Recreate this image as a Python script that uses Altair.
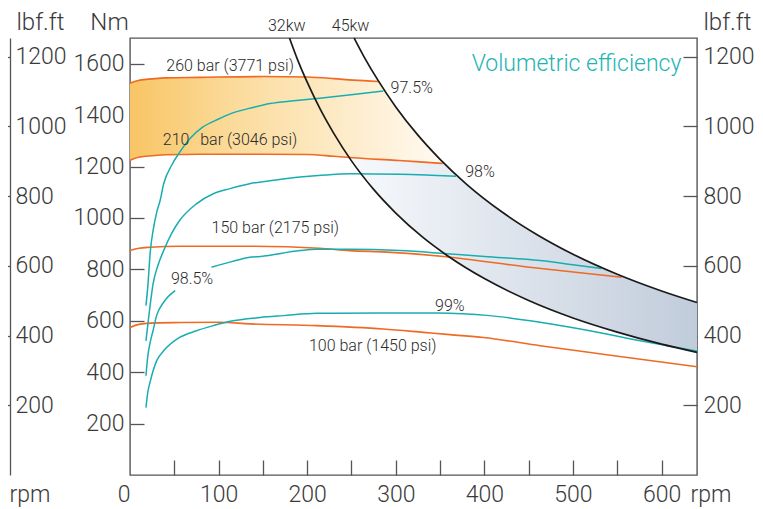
import altair as alt
import pandas as pd

FONT = "Roboto, Liberation Sans, sans-serif"
FW = 300
ORANGE = "#ef6a22"
CYAN = "#18adb0"
INK = "#2b2b2b"
GRAY = "#555555"
AXIS_FS = 23
TITLE_FS = 24
LABEL_FS = 16

RPM_MAX = 640
NM_MAX = 1700
LBF_MAX = 1700 / 1.35582
W, H = 567, 437

# ---------------- data (rpm, Nm) ----------------
bar260_rpm = [0, 5, 11, 25, 40, 79, 150, 200, 230, 252, 281]
bar260_nm = [1524, 1531, 1536, 1541, 1545, 1547, 1550, 1548, 1542, 1536, 1531]
bar210_rpm = [0, 5, 11, 25, 40, 79, 150, 200, 230, 252, 300, 327, 353]
bar210_nm = [1224, 1231, 1237, 1242, 1246, 1248, 1248, 1247, 1240, 1234, 1224, 1218, 1212]
bar150_rpm = [0, 10, 23, 56, 135, 214, 248, 290, 354, 451, 555]
bar150_nm = [873, 882, 886, 890, 890, 882, 873, 867, 850, 808, 769]
bar100_rpm = [0, 10, 23, 56, 100, 135, 211, 286, 331, 361, 399, 463, 538, 640]
bar100_nm = [574, 586, 591, 593, 594, 588, 581, 568, 555, 546, 535, 503, 468, 421]

eff975_rpm = [18, 20, 23, 26, 30, 34, 38, 47, 56, 68, 82, 100, 113, 139, 158, 185, 214, 252, 286]
eff975_nm = [659, 730, 873, 950, 1020, 1068, 1133, 1205, 1255, 1310, 1353, 1385, 1405, 1430, 1445, 1456, 1466, 1480, 1494]
eff98_rpm = [18, 22, 26, 32, 38, 47, 56, 75, 94, 113, 135, 165, 192, 220, 248, 305, 340, 368]
eff98_nm = [522, 640, 743, 820, 873, 940, 990, 1055, 1094, 1114, 1133, 1148, 1159, 1167, 1172, 1170, 1166, 1162]
eff985a_rpm = [18, 20, 23, 26, 30, 38, 51]
eff985a_nm = [386, 460, 520, 561, 620, 672, 717]
eff985b_rpm = [92, 115, 135, 147, 192, 211, 248, 305, 350, 400, 463, 500, 532]
eff985b_nm = [808, 830, 847, 850, 873, 878, 878, 873, 863, 850, 834, 818, 803]
eff99_rpm = [18, 20, 23, 30, 38, 56, 75, 94, 113, 147, 173, 211, 286, 346, 406, 463, 519, 576, 641]
eff99_nm = [262, 320, 366, 444, 483, 535, 561, 581, 598, 613, 620, 629, 630, 630, 620, 594, 561, 522, 481]

kw32_rpm = [180, 190, 200, 215, 230, 250, 275, 300, 330, 360, 400, 450, 500, 550, 600, 640]
kw32_nm = [1700, 1608, 1528, 1421, 1329, 1222, 1111, 1019, 926, 849, 764, 679, 611, 556, 509, 477]
kw45_rpm = [253, 265, 280, 300, 325, 350, 380, 420, 460, 500, 550, 600, 640]
kw45_nm = [1700, 1622, 1535, 1432, 1322, 1228, 1131, 1023, 934, 859, 781, 716, 671]

# shaded zones (rpm, upper Nm, lower Nm)
yellow_rpm = [0, 5, 11, 25, 40, 79, 150, 200, 230, 252, 270, 281, 290, 300, 310, 320, 330, 340, 353]
yellow_top = [1524, 1531, 1536, 1541, 1545, 1547, 1550, 1548, 1542, 1536, 1533, 1531, 1482, 1432, 1386, 1343, 1302, 1264, 1214]
yellow_bot = [1224, 1231, 1237, 1242, 1246, 1248, 1248, 1247, 1240, 1234, 1230, 1228, 1226, 1224, 1222, 1220, 1217, 1215, 1212]
blue_rpm = [247, 255, 265, 280, 300, 325, 353, 375, 400, 430, 460, 500, 550, 600, 640]
blue_top = [1235, 1233, 1230, 1228, 1224, 1219, 1212, 1146, 1074, 999, 934, 859, 781, 716, 671]
blue_bot = [1235, 1198, 1153, 1091, 1019, 940, 866, 815, 764, 711, 664, 611, 556, 509, 477]

# labels
label_text = ["260 bar (3771 psi)", "210", "bar (3046 psi)", "150 bar (2175 psi)",
              "100 bar (1450 psi)", "98.5%", "97.5%", "98%", "99%", "32kw", "45kw"]
label_rpm = [113, 52, 134, 164, 274, 70, 318, 395, 361, 177, 249]
label_nm = [1591, 1302, 1302, 961, 503, 763, 1507, 1179, 659, 1747, 1747]
title_text = ["Volumetric efficiency"]
title_rpm = [504]
title_nm = [1598]

x_label_values = [0, 100, 200, 300, 400, 500, 600]
x_tick_values = [50, 100, 150, 200, 250, 300, 350, 400, 450, 500, 550, 600]
nm_values = [200, 400, 600, 800, 1000, 1200, 1400, 1600]
lbf_values = [200, 400, 600, 800, 1000, 1200]


def series_df(pairs):
    rows = []
    for name, xs, ys in pairs:
        for a, b in zip(xs, ys):
            rows.append({"series": name, "rpm": a, "nm": b})
    return pd.DataFrame(rows)


xscale = alt.Scale(domain=[0, RPM_MAX], nice=False, zero=False)
yscale = alt.Scale(domain=[0, NM_MAX], nice=False)


def X(axis=None):
    return alt.X("rpm:Q", scale=xscale, axis=axis)


def Y(field="nm", axis=None):
    return alt.Y(f"{field}:Q", scale=yscale, axis=axis)


ax_x_labels = alt.Axis(
    orient="bottom", values=x_label_values, format="d", ticks=False, tickSize=0, domain=False,
    grid=False, labelFontSize=AXIS_FS, labelBaseline="alphabetic", labelPadding=26,
    labelAlign={"condition": {"test": "datum.value === 0", "value": "right"}, "value": "center"},
    title="rpm", titleX=560, titleY=26, titleAlign="left", titleBaseline="alphabetic",
    titleFontSize=AXIS_FS, titleAngle=0,
)
ax_x_ticks = alt.Axis(orient="top", offset=-H, values=x_tick_values, labels=False, domain=False,
                      tickSize=15, tickColor=GRAY, tickWidth=1.3, title=None, grid=False)
ax_y_labels = alt.Axis(
    orient="left", values=nm_values, format="d", ticks=False, tickSize=0, domain=False, grid=False,
    labelPadding=6, labelFontSize=AXIS_FS, title="Nm", titleAngle=0, titleX=-21, titleY=-9,
    titleAlign="center", titleBaseline="alphabetic", titleFontSize=TITLE_FS,
)
ax_y_ticks = alt.Axis(orient="right", offset=-W, values=nm_values, labels=False, domain=False,
                      tickSize=14, tickColor=GRAY, tickWidth=1.3, title=None, grid=False)

yellow_df = pd.DataFrame({"rpm": yellow_rpm, "top": yellow_top, "bot": yellow_bot})
blue_df = pd.DataFrame({"rpm": blue_rpm, "top": blue_top, "bot": blue_bot})

yellow = alt.Chart(yellow_df).mark_area(
    interpolate="monotone",
    color=alt.LinearGradient(gradient="linear", x1=0, x2=1, y1=0, y2=0, stops=[
        alt.GradientStop(color="#f8c565", offset=0),
        alt.GradientStop(color="#fbdc9e", offset=0.35),
        alt.GradientStop(color="#fffaf2", offset=1)]),
).encode(x=X(ax_x_labels), y=Y("top", ax_y_labels), y2="bot:Q")

blue = alt.Chart(blue_df).mark_area(
    interpolate="monotone",
    color=alt.LinearGradient(gradient="linear", x1=0, x2=1, y1=0, y2=0, stops=[
        alt.GradientStop(color="#f7f9fc", offset=0),
        alt.GradientStop(color="#c1ccdb", offset=1)]),
).encode(x=X(ax_x_ticks), y=Y("top", ax_y_ticks), y2="bot:Q")

orange_df = series_df([("260", bar260_rpm, bar260_nm), ("210", bar210_rpm, bar210_nm),
                       ("150", bar150_rpm, bar150_nm), ("100", bar100_rpm, bar100_nm)])
cyan_df = series_df([("97.5", eff975_rpm, eff975_nm), ("98", eff98_rpm, eff98_nm),
                     ("98.5a", eff985a_rpm, eff985a_nm), ("98.5b", eff985b_rpm, eff985b_nm),
                     ("99", eff99_rpm, eff99_nm)])
black_df = series_df([("32", kw32_rpm, kw32_nm), ("45", kw45_rpm, kw45_nm)])

orange = alt.Chart(orange_df).mark_line(color=ORANGE, strokeWidth=1.6, interpolate="monotone").encode(
    x=X(), y=Y(), detail="series:N")
cyan = alt.Chart(cyan_df).mark_line(color=CYAN, strokeWidth=1.5, interpolate="monotone").encode(
    x=X(), y=Y(), detail="series:N")
black = alt.Chart(black_df).mark_line(color="#1a1a1a", strokeWidth=1.7, interpolate="monotone").encode(
    x=X(), y=Y(), detail="series:N")

labels = alt.Chart(pd.DataFrame({"t": label_text, "rpm": label_rpm, "nm": label_nm})).mark_text(
    font=FONT, fontWeight=FW, fontSize=LABEL_FS, color=INK, align="center", baseline="middle").encode(
    x=X(), y=Y(), text="t:N")
vtitle = alt.Chart(pd.DataFrame({"t": title_text, "rpm": title_rpm, "nm": title_nm})).mark_text(
    font=FONT, fontWeight=FW, fontSize=23, color="#22b4b4", align="center", baseline="middle").encode(
    x=X(), y=Y(), text="t:N")

main = alt.layer(yellow, blue, orange, cyan, black, labels, vtitle).resolve_axis(
    x="independent", y="independent")

# ---------------- lbf.ft axes (right one and the neighbouring chart's strip) ----------------
lbf_df = pd.DataFrame({"v": lbf_values, "rpm": [100] * len(lbf_values)})
lbf_scale = alt.Scale(domain=[0, LBF_MAX], nice=False)

r_labels = alt.Chart(lbf_df).mark_point(opacity=0).encode(
    y=alt.Y("v:Q", scale=lbf_scale, axis=alt.Axis(
        orient="right", values=lbf_values, format="d", ticks=False, tickSize=0, domain=False,
        grid=False, labelPadding=6, labelFontSize=AXIS_FS, title="lbf.ft", titleAngle=0,
        titleX=30, titleY=-9, titleAlign="center", titleBaseline="alphabetic",
        titleFontSize=TITLE_FS)))
r_ticks = alt.Chart(lbf_df).mark_point(opacity=0).encode(
    y=alt.Y("v:Q", scale=lbf_scale, axis=alt.Axis(
        orient="left", offset=-W, values=lbf_values, labels=False, domain=False, grid=False,
        tickSize=14, tickColor=GRAY, tickWidth=1.3, title=None)))
strip = alt.Chart(lbf_df).mark_point(opacity=0).encode(
    x=X(alt.Axis(orient="bottom", labels=False, ticks=False, domain=False, grid=False,
                 title="rpm", titleX=-121, titleY=26, titleAlign="left",
                 titleBaseline="alphabetic", titleFontSize=AXIS_FS, titleAngle=0)),
    y=alt.Y("v:Q", scale=lbf_scale, axis=alt.Axis(
        orient="left", offset=120, values=lbf_values, format="d", tickSize=10, tickColor=GRAY,
        tickWidth=1.3, labelAlign="left", labelPadding=-15, labelFontSize=AXIS_FS, domain=True,
        domainColor=GRAY, domainWidth=1.3, grid=False, title="lbf.ft", titleAngle=0, titleX=30,
        titleY=-9, titleAlign="center", titleBaseline="alphabetic", titleFontSize=TITLE_FS)))

lbf = alt.layer(r_labels, r_ticks, strip).resolve_axis(x="independent", y="independent")

chart = alt.layer(main, lbf).resolve_scale(y="independent").resolve_axis(
    x="independent", y="independent"
).properties(
    width=W, height=H,
    padding={"left": 122, "top": 30, "right": 58, "bottom": 33},
    autosize=alt.AutoSizeParams(type="none"),
).configure_view(stroke=GRAY, strokeWidth=1.4).configure_axis(
    labelFont=FONT, titleFont=FONT, labelFontWeight=FW, titleFontWeight=FW,
    labelColor="#3a3a3a", titleColor="#3a3a3a", grid=False,
)

chart.save("out.html", embed_options={"renderer": "svg", "actions": False})
